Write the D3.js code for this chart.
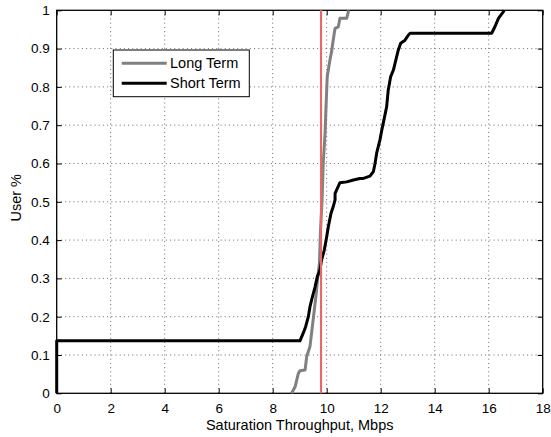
<!DOCTYPE html>
<html><head><meta charset="utf-8">
<script src="https://cdn.jsdelivr.net/npm/d3@7"></script>
<style>
html,body{margin:0;padding:0;background:#fff;}
text{font-family:"Liberation Sans",Arial,Helvetica,sans-serif;fill:#000;}
</style></head>
<body>
<svg id="chart" width="551" height="437"></svg>
<script>
// ---- data ----
const xTicks = [0,2,4,6,8,10,12,14,16,18];
const yTicks = [0,0.1,0.2,0.3,0.4,0.5,0.6,0.7,0.8,0.9,1];
const seriesNames = ["Long Term","Short Term"];
const longX = [8.70,8.83,8.95,9.01,9.20,9.26,9.38,9.44,9.54,9.60,9.67,9.73,9.77,9.83,9.87,9.94,9.97,10.02,10.12,10.19,10.24,10.31,10.43,10.49,10.74,10.80,10.80];
const longY = [0,0.017,0.052,0.059,0.061,0.096,0.122,0.157,0.217,0.252,0.304,0.339,0.426,0.505,0.60,0.679,0.74,0.827,0.870,0.896,0.922,0.953,0.957,0.979,0.979,0.996,1.0];
const shortX = [0,0,9.01,9.13,9.22,9.32,9.38,9.47,9.57,9.65,9.75,9.81,9.91,10.0,10.06,10.16,10.24,10.31,10.31,10.49,10.74,10.99,11.23,11.36,11.60,11.73,11.79,11.85,11.97,12.04,12.12,12.22,12.28,12.37,12.47,12.56,12.65,12.74,12.90,13.02,13.09,16.11,16.23,16.36,16.54,16.57];
const shortY = [0,0.137,0.137,0.157,0.174,0.20,0.226,0.252,0.278,0.304,0.322,0.348,0.374,0.409,0.435,0.47,0.487,0.505,0.522,0.55,0.552,0.557,0.561,0.561,0.567,0.579,0.60,0.627,0.661,0.687,0.714,0.748,0.792,0.827,0.844,0.870,0.896,0.914,0.922,0.935,0.94,0.94,0.957,0.979,0.996,1.0];
const refLineX = 9.79;

// ---- layout ----
const svg = d3.select("#chart");
const L = 56.7, R = 542.7, T = 10.3, B = 393.3;
const x = d3.scaleLinear().domain([0,18]).range([L,R]);
const y = d3.scaleLinear().domain([0,1]).range([B,T]);

// grid
const g = svg.append("g");
g.selectAll(".vg").data(xTicks.filter(d=>d>0&&d<18)).enter().append("line")
  .attr("x1",d=>x(d)).attr("x2",d=>x(d)).attr("y1",B).attr("y2",T)
  .attr("stroke","#444").attr("stroke-width",0.8).attr("stroke-dasharray","1,3.2");
g.selectAll(".hg").data(yTicks.filter(d=>d>0&&d<1)).enter().append("line")
  .attr("x1",L).attr("x2",R).attr("y1",d=>y(d)).attr("y2",d=>y(d))
  .attr("stroke","#444").attr("stroke-width",0.8).attr("stroke-dasharray","1,3.2");

// axes with inner ticks
const fmtY = d => d===0?"0":d===1?"1":d3.format(".1f")(d);
const ax = svg.append("g").attr("transform",`translate(0,${B})`)
  .call(d3.axisBottom(x).tickValues(xTicks).tickSizeInner(-5).tickSizeOuter(0).tickPadding(10));
const ay = svg.append("g").attr("transform",`translate(${L},0)`)
  .call(d3.axisLeft(y).tickValues(yTicks).tickFormat(fmtY).tickSizeInner(-5).tickSizeOuter(0).tickPadding(7));
const axT = svg.append("g").attr("transform",`translate(0,${T})`)
  .call(d3.axisTop(x).tickValues(xTicks).tickSizeInner(-5).tickSizeOuter(0).tickFormat(""));
const ayR = svg.append("g").attr("transform",`translate(${R},0)`)
  .call(d3.axisRight(y).tickValues(yTicks).tickSizeInner(-5).tickSizeOuter(0).tickFormat(""));
[ax,ay,axT,ayR].forEach(a=>{
  a.select(".domain").remove();
  a.selectAll("line").attr("stroke","#000").attr("stroke-width",1);
  a.selectAll("text").style("font-size","13.5px").attr("fill","#000")
   .style("font-family","'Liberation Sans',Arial,sans-serif");
});
ax.selectAll("text").attr("dy","0.71em");

// box
svg.append("rect").attr("x",L).attr("y",T).attr("width",R-L).attr("height",B-T)
  .attr("fill","none").attr("stroke","#000").attr("stroke-width",1.3);

// series
const line = d3.line().x(d=>x(d[0])).y(d=>y(d[1]));
const longData = longX.map((v,i)=>[v,longY[i]]);
const shortData = shortX.map((v,i)=>[v,shortY[i]]);
svg.append("path").datum(longData).attr("d",line).attr("fill","none")
  .attr("stroke","#808080").attr("stroke-width",3).attr("stroke-linejoin","round");
svg.append("path").datum(shortData).attr("d",line).attr("fill","none")
  .attr("stroke","#000").attr("stroke-width",3).attr("stroke-linejoin","round");

// red reference line
svg.append("line").attr("x1",x(refLineX)).attr("x2",x(refLineX)).attr("y1",B).attr("y2",T)
  .attr("stroke","#f0a0a0").attr("stroke-width",2.2);
svg.append("line").attr("x1",x(refLineX)).attr("x2",x(refLineX)).attr("y1",B).attr("y2",T)
  .attr("stroke","#e02020").attr("stroke-width",0.9);

// legend
const lg = svg.append("g");
lg.append("rect").attr("x",113.3).attr("y",50).attr("width",136).attr("height",46.7)
  .attr("fill","#fff").attr("stroke","#000").attr("stroke-width",1);
const colors = ["#808080","#000"];
seriesNames.forEach((n,i)=>{
  const yy = 63.3 + i*20;
  lg.append("line").attr("x1",121.7).attr("x2",166.7).attr("y1",yy).attr("y2",yy)
    .attr("stroke",colors[i]).attr("stroke-width",3);
  lg.append("text").attr("x",170).attr("y",yy+5).style("font-size","14.5px").text(n);
});

// axis labels
svg.append("text").attr("x",(L+R)/2).attr("y",430).attr("text-anchor","middle")
  .style("font-size","14.5px").text("Saturation Throughput, Mbps");
svg.append("text").attr("transform",`translate(21,${(T+B)/2 - 4}) rotate(-90)`)
  .attr("text-anchor","middle").style("font-size","14.5px").text("User %");
</script>
</body></html>
